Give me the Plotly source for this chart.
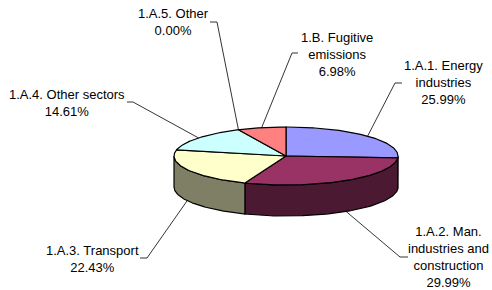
import numpy as np
import plotly.graph_objects as go

# ---- data ----
categories = ["1.A.1. Energy industries", "1.A.2. Man. industries and construction",
              "1.A.3. Transport", "1.A.4. Other sectors", "1.A.5. Other",
              "1.B. Fugitive emissions"]
shares = [25.99, 29.99, 22.43, 14.61, 0.00, 6.98]
label_lines = ["1.A.1. Energy<br>industries", "1.A.2. Man.<br>industries and<br>construction",
               "1.A.3. Transport", "1.A.4. Other sectors", "1.A.5. Other",
               "1.B. Fugitive<br>emissions"]

# ---- style / layout ----
top_colors = ["#9999FF", "#993366", "#FFFFCC", "#CCFFFF", "#0066CC", "#FF8080"]
CX, CY, RX, RY, DEPTH = 286, 156, 112, 29, 31
W, H = 492, 290
# label text centre (x, y), leader end, leader elbow
label_pos = [(443, 82.5), (448, 257), (92, 259), (67, 102.5), (173, 21.5), (337, 54)]
leader_end = [(402, 83), (408, 257), (140, 258), (127, 102), (210, 22), (298, 53)]
leader_elbow = [(395, 83), (400, 257), (147, 258), (133, 102), (217, 22), (292, 53)]


def darker(hexc):
    h = hexc.lstrip("#")
    r, g, b = (int(h[i:i + 2], 16) for i in (0, 2, 4))
    return "#%02X%02X%02X" % (r // 2, g // 2, b // 2)


def ell(theta_deg, dy=0.0):
    t = np.radians(theta_deg)
    return CX + RX * np.sin(t), CY - RY * np.cos(t) + dy


total = sum(shares)
bounds = np.concatenate([[0], np.cumsum(shares) / total * 360])

fig = go.Figure()

# side faces (front half, 90..270 degrees)
for i, v in enumerate(shares):
    a, b = bounds[i], bounds[i + 1]
    lo, hi = max(a, 90), min(b, 270)
    if hi <= lo:
        continue
    th = np.linspace(lo, hi, 80)
    xt, yt = ell(th)
    xb, yb = ell(th[::-1], DEPTH)
    xs = np.concatenate([xt, xb, xt[:1]])
    ys = np.concatenate([yt, yb, yt[:1]])
    fig.add_trace(go.Scatter(x=xs, y=ys, mode="lines", fill="toself",
                             fillcolor=darker(top_colors[i]),
                             line=dict(color="black", width=1.2),
                             hoverinfo="skip", showlegend=False))

# top faces
for i, v in enumerate(shares):
    a, b = bounds[i], bounds[i + 1]
    if b - a <= 0:
        continue
    th = np.linspace(a, b, 120)
    xa, ya = ell(th)
    xs = np.concatenate([[CX], xa, [CX]])
    ys = np.concatenate([[CY], ya, [CY]])
    fig.add_trace(go.Scatter(x=xs, y=ys, mode="lines", fill="toself",
                             fillcolor=top_colors[i],
                             line=dict(color="black", width=1.2),
                             hoverinfo="skip", showlegend=False))

# leader lines and labels
for i, v in enumerate(shares):
    m = (bounds[i] + bounds[i + 1]) / 2
    ax_, ay_ = ell(m, DEPTH if 90 < m < 270 else 0)
    fig.add_trace(go.Scatter(x=[ax_, leader_elbow[i][0], leader_end[i][0]],
                             y=[ay_, leader_elbow[i][1], leader_end[i][1]],
                             mode="lines", line=dict(color="black", width=0.8),
                             hoverinfo="skip", showlegend=False))
    fig.add_annotation(x=label_pos[i][0], y=label_pos[i][1],
                       text=f"{label_lines[i]}<br>{v:.2f}%", showarrow=False,
                       xanchor="center", yanchor="middle", align="center",
                       font=dict(family="Liberation Sans, Arial", size=13, color="black"))

fig.update_layout(width=W, height=H, margin=dict(l=0, r=0, t=0, b=0),
                  paper_bgcolor="white", plot_bgcolor="white",
                  xaxis=dict(range=[0, W], visible=False, fixedrange=True),
                  yaxis=dict(range=[H, 0], visible=False, fixedrange=True),
                  showlegend=False)

fig.write_html("out.html", config={"displayModeBar": False},
               post_script="document.body.style.margin='0';document.body.style.overflow='hidden';")
